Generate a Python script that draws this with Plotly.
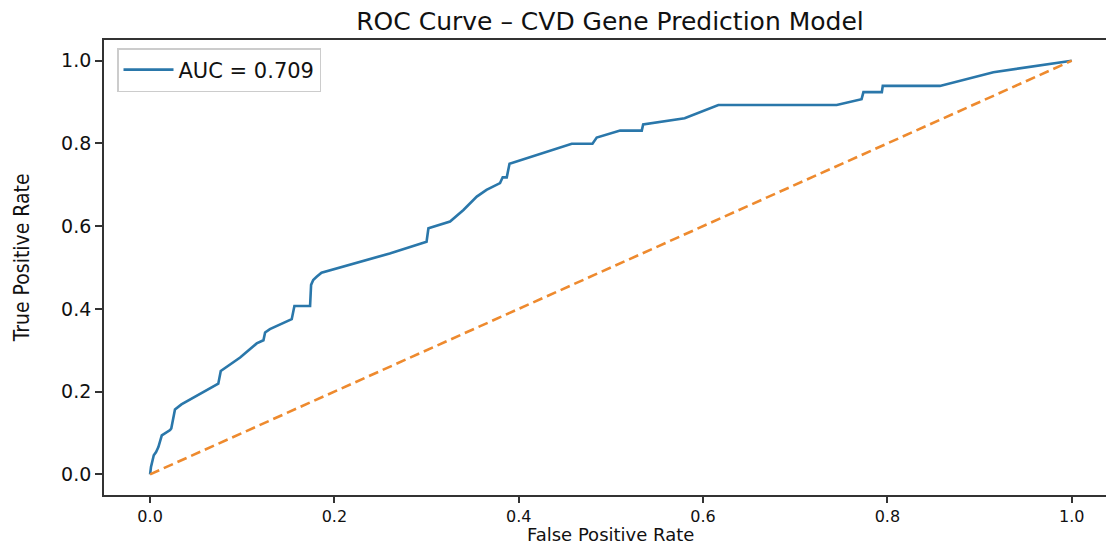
import plotly.graph_objects as go

fpr = [0, 0.001, 0.004, 0.0065, 0.009, 0.0127, 0.0217, 0.023, 0.027, 0.034, 0.074, 0.0767,
       0.0977, 0.1067, 0.1157, 0.123, 0.1248, 0.130, 0.1537, 0.1566, 0.1736, 0.1747, 0.177,
       0.181, 0.186, 0.260, 0.300, 0.302, 0.3255, 0.340, 0.3545, 0.365, 0.3797, 0.3826,
       0.387, 0.390, 0.4575, 0.480, 0.4846, 0.51, 0.5335, 0.535, 0.580, 0.6166, 0.745,
       0.772, 0.774, 0.794, 0.795, 0.857, 0.915, 1.0]
tpr = [0, 0.018, 0.046, 0.054, 0.066, 0.094, 0.107, 0.111, 0.157, 0.169, 0.219, 0.250,
       0.2825, 0.300, 0.3164, 0.324, 0.343, 0.351, 0.375, 0.407, 0.407, 0.458, 0.470,
       0.478, 0.4875, 0.534, 0.5625, 0.595, 0.611, 0.639, 0.6715, 0.6877, 0.704, 0.718,
       0.718, 0.7506, 0.799, 0.799, 0.814, 0.831, 0.831, 0.846, 0.861, 0.8927, 0.8927,
       0.907, 0.924, 0.924, 0.939, 0.939, 0.972, 1.0]
chance_x = [0, 1]
chance_y = [0, 1]
auc_label = "AUC = 0.709"
title_text = "ROC Curve – CVD Gene Prediction Model"
x_title = "False Positive Rate"
y_title = "True Positive Rate"
tick_vals = [0.0, 0.2, 0.4, 0.6, 0.8, 1.0]

fig = go.Figure()
fig.add_trace(go.Scatter(x=fpr, y=tpr, mode="lines", name=auc_label,
                         line=dict(color="#2a77aa", width=2.6)))
fig.add_trace(go.Scatter(x=chance_x, y=chance_y, mode="lines", showlegend=False,
                         line=dict(color="#ee8a2e", width=2.6, dash="10px,5px")))

font_main = "DejaVu Sans, sans-serif"
W, H = 1106, 547
L, T, B = 104, 40, 52.4
PW, PH = W - L, H - T - B
fig.update_layout(
    width=W, height=H,
    margin=dict(l=L, r=0, t=T, b=B, pad=0),
    paper_bgcolor="white", plot_bgcolor="white",
    title=dict(text=title_text, x=610 / W, xanchor="center", y=1 - 21 / H, yanchor="middle",
               font=dict(family=font_main, size=25, color="#111")),
    font=dict(family=font_main, color="#111"),
    legend=dict(x=(117 - L) / PW, y=1 - (48 - T) / PH, xanchor="left", yanchor="top",
                bgcolor="white", bordercolor="#cccccc", borderwidth=1.5,
                tracegroupgap=0, itemwidth=50,
                font=dict(family=font_main, size=21, color="#111")),
    xaxis=dict(range=[-0.05, 1.0372], tickvals=tick_vals, tickformat=".1f",
               showgrid=False, zeroline=False, showline=True, mirror=True,
               linecolor="#333", linewidth=1.8, ticks="outside", ticklen=6,
               tickwidth=1.5, tickcolor="#333",
               tickfont=dict(family=font_main, size=16, color="#111")),
    yaxis=dict(range=[-0.05, 1.05], tickvals=tick_vals, tickformat=".1f",
               showgrid=False, zeroline=False, showline=True, mirror=False,
               linecolor="#333", linewidth=1.8, ticks="outside", ticklen=7,
               tickwidth=1.5, tickcolor="#333",
               tickfont=dict(family=font_main, size=19, color="#111")),
    annotations=[
        dict(text=x_title, xref="paper", yref="paper", x=(610 - L) / PW,
             y=-(547 - (H - B)) / PH, xanchor="center", yanchor="bottom",
             showarrow=False, font=dict(family=font_main, size=18, color="#111")),
        dict(text=y_title, xref="paper", yref="paper", x=(22 - L) / PW,
             y=((H - B) - 258) / PH, xanchor="center", yanchor="middle", textangle=-90,
             showarrow=False,
             font=dict(family="DejaVu Sans Condensed, DejaVu Sans, sans-serif",
                       size=21, color="#111")),
    ],
)

fig.write_html("out.html", config={"displayModeBar": False},
               post_script="document.body.style.margin='0';document.body.style.overflow='hidden';")
